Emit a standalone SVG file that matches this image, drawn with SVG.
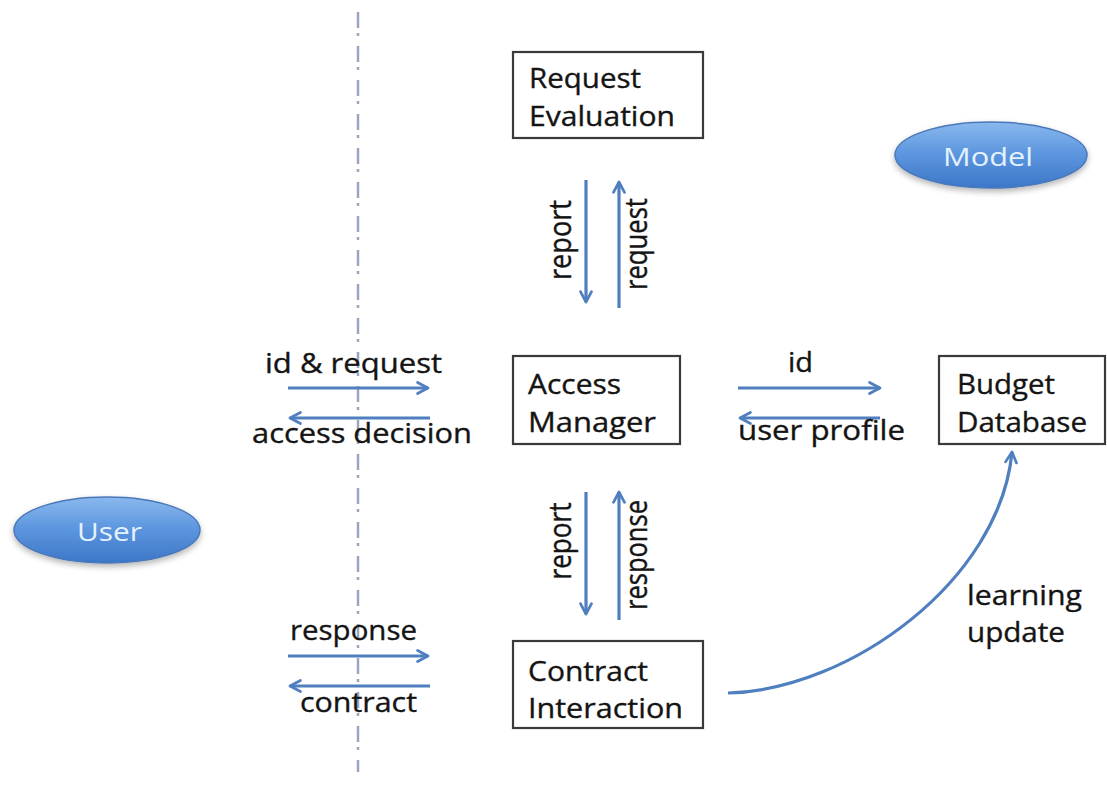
<svg xmlns="http://www.w3.org/2000/svg" width="1107" height="800" viewBox="0 0 1107 800">
  <style>
    .box { fill: #ffffff; stroke: #3a3a3a; stroke-width: 2.2; }
    .lbl { font-family: "Open Sans", "Noto Sans", sans-serif; font-size: 27px; fill: #141414; stroke: #141414; stroke-width: 0.35; }
    .oval { stroke: #4a78b8; stroke-width: 1.5; }
    .otxt { font-family: "Open Sans", "Noto Sans", sans-serif; font-size: 26px; fill: #e4f2ff; }
    .flow { fill: none; stroke: #4f7fbf; stroke-width: 3.2; marker-end: url(#head); }
    .sep { stroke: #9aa6bd; stroke-width: 2.5; stroke-dasharray: 16 5 3 10; }
  </style>
  <defs>
    <marker id="head" viewBox="0 0 12 12" refX="10" refY="6" markerWidth="4.6" markerHeight="4.6" orient="auto" markerUnits="strokeWidth">
      <path d="M1.5,1.5 L10,6 L1.5,10.5" fill="none" stroke="#4f7fbf" stroke-width="2.2" stroke-linecap="round" stroke-linejoin="round"/>
    </marker>
    <linearGradient id="ovalFill" x1="0" y1="0" x2="0" y2="1">
      <stop offset="0" stop-color="#8ab8ee"/>
      <stop offset="0.45" stop-color="#5f98e0"/>
      <stop offset="1" stop-color="#3c76c8"/>
    </linearGradient>
    <filter id="soft" x="-20%" y="-20%" width="140%" height="160%">
      <feGaussianBlur in="SourceAlpha" stdDeviation="3"/>
      <feOffset dy="3"/>
      <feComponentTransfer><feFuncA type="linear" slope="0.3"/></feComponentTransfer>
      <feMerge><feMergeNode/><feMergeNode in="SourceGraphic"/></feMerge>
    </filter>
  </defs>

  <rect width="1107" height="800" fill="#ffffff"/>

  <!-- user / system boundary -->
  <line class="sep" x1="358" y1="12" x2="358" y2="772"/>

  <!-- actors -->
  <g id="user">
    <ellipse class="oval" cx="107" cy="530" rx="93" ry="33" fill="url(#ovalFill)" filter="url(#soft)"/>
    <text class="otxt" x="77" y="541" textLength="65" lengthAdjust="spacingAndGlyphs">User</text>
  </g>
  <g id="model">
    <ellipse class="oval" cx="991" cy="155" rx="96" ry="33" fill="url(#ovalFill)" filter="url(#soft)"/>
    <text class="otxt" x="943" y="166" textLength="90" lengthAdjust="spacingAndGlyphs">Model</text>
  </g>

  <!-- components -->
  <g id="request-evaluation">
    <rect class="box" x="513" y="52" width="190" height="86"/>
    <text class="lbl" x="529" y="88" textLength="112" lengthAdjust="spacingAndGlyphs">Request</text>
    <text class="lbl" x="529" y="126" textLength="146" lengthAdjust="spacingAndGlyphs">Evaluation</text>
  </g>
  <g id="access-manager">
    <rect class="box" x="513" y="356" width="167" height="88"/>
    <text class="lbl" x="528" y="394" textLength="93" lengthAdjust="spacingAndGlyphs">Access</text>
    <text class="lbl" x="528" y="432" textLength="128" lengthAdjust="spacingAndGlyphs">Manager</text>
  </g>
  <g id="budget-database">
    <rect class="box" x="939" y="356" width="166" height="88"/>
    <text class="lbl" x="957" y="394" textLength="98" lengthAdjust="spacingAndGlyphs">Budget</text>
    <text class="lbl" x="957" y="432" textLength="130" lengthAdjust="spacingAndGlyphs">Database</text>
  </g>
  <g id="contract-interaction">
    <rect class="box" x="513" y="641" width="190" height="87"/>
    <text class="lbl" x="528" y="681" textLength="120" lengthAdjust="spacingAndGlyphs">Contract</text>
    <text class="lbl" x="528" y="718" textLength="155" lengthAdjust="spacingAndGlyphs">Interaction</text>
  </g>

  <!-- message flows -->
  <g id="connectors">
    <!-- user <-> access manager -->
    <line class="flow" x1="288" y1="388" x2="428" y2="388"/>
    <line class="flow" x1="430" y1="418" x2="290" y2="418"/>
    <text class="lbl" x="265" y="373" textLength="177" lengthAdjust="spacingAndGlyphs">id &amp; request</text>
    <text class="lbl" x="252" y="443" textLength="220" lengthAdjust="spacingAndGlyphs">access decision</text>

    <!-- access manager <-> budget database -->
    <line class="flow" x1="738" y1="388" x2="880" y2="388"/>
    <line class="flow" x1="880" y1="418" x2="740" y2="418"/>
    <text class="lbl" x="788" y="372" textLength="25" lengthAdjust="spacingAndGlyphs">id</text>
    <text class="lbl" x="738" y="440" textLength="167" lengthAdjust="spacingAndGlyphs">user profile</text>

    <!-- access manager <-> request evaluation -->
    <line class="flow" x1="586" y1="180" x2="586" y2="302"/>
    <line class="flow" x1="619" y1="308" x2="619" y2="182"/>
    <text class="lbl" text-anchor="middle" textLength="80" lengthAdjust="spacingAndGlyphs" transform="translate(571,240) scale(1.15,1) rotate(-90)">report</text>
    <text class="lbl" text-anchor="middle" textLength="92" lengthAdjust="spacingAndGlyphs" transform="translate(647,244) scale(1.15,1) rotate(-90)">request</text>

    <!-- access manager <-> contract interaction -->
    <line class="flow" x1="586" y1="492" x2="586" y2="614"/>
    <line class="flow" x1="619" y1="620" x2="619" y2="492"/>
    <text class="lbl" text-anchor="middle" textLength="77" lengthAdjust="spacingAndGlyphs" transform="translate(571,541) scale(1.15,1) rotate(-90)">report</text>
    <text class="lbl" text-anchor="middle" textLength="110" lengthAdjust="spacingAndGlyphs" transform="translate(647,555) scale(1.15,1) rotate(-90)">response</text>

    <!-- user <-> contract interaction -->
    <line class="flow" x1="288" y1="656" x2="428" y2="656"/>
    <line class="flow" x1="430" y1="686" x2="290" y2="686"/>
    <text class="lbl" x="290" y="640" textLength="127" lengthAdjust="spacingAndGlyphs">response</text>
    <text class="lbl" x="300" y="712" textLength="117" lengthAdjust="spacingAndGlyphs">contract</text>

    <!-- contract interaction -> budget database -->
    <path class="flow" d="M728,693 C850,690 1000,580 1012,452"/>
    <text class="lbl" x="967" y="605" textLength="115" lengthAdjust="spacingAndGlyphs">learning</text>
    <text class="lbl" x="967" y="642" textLength="98" lengthAdjust="spacingAndGlyphs">update</text>
  </g>
</svg>
